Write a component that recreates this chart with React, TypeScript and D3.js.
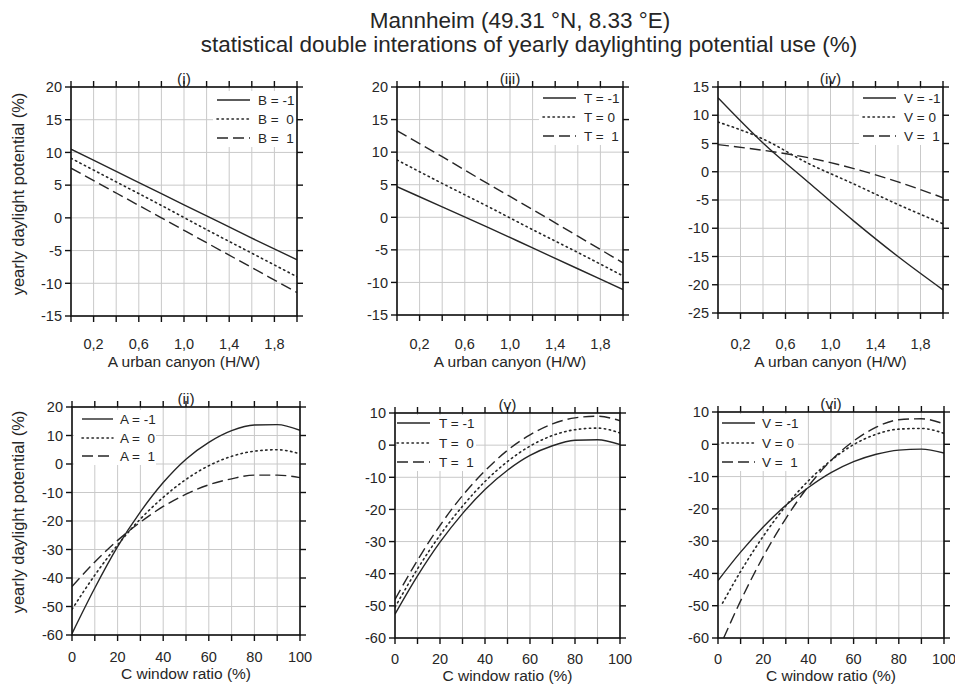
import React from 'react';
import * as d3 from 'd3';

// ---------- DATA ----------
const X_CANYON = [0, 0.4, 0.8, 1.2, 1.6, 2.0];
const X_CANYON_GRID = [0, 0.2, 0.4, 0.6, 0.8, 1.0, 1.2, 1.4, 1.6, 1.8, 2.0];
const X_CANYON_LABELS = [0.2, 0.6, 1.0, 1.4, 1.8];

const X_WINDOW = [0, 10, 20, 30, 40, 50, 60, 70, 80, 90, 100];
const X_WINDOW_LABELS = [0, 20, 40, 60, 80, 100];

// (i) A x B
const B_M1 = [10.5, 7.1, 3.7, 0.3, -3.1, -6.4];
const B_0 = [9.1, 5.5, 1.9, -1.8, -5.4, -9.0];
const B_P1 = [7.6, 3.8, 0.0, -3.8, -7.6, -11.4];

// (iii) A x T
const T_M1_A = [4.7, 1.6, -1.5, -4.7, -7.9, -11.1];
const T_0_A = [8.8, 5.2, 1.7, -1.9, -5.4, -9.0];
const T_P1_A = [13.3, 9.3, 5.2, 1.2, -2.9, -7.0];

// (iv) A x V
const V_M1_A = [13.1, 5.1, -1.8, -8.6, -15.0, -20.9];
const V_0_A = [8.8, 5.8, 1.5, -2.1, -5.8, -9.2];
const V_P1_A = [4.8, 3.8, 2.5, 0.6, -1.8, -4.6];

// (ii) C x A
const A_M1_C = [-59.5, -43.5, -29, -16.8, -6.5, 1.7, 7.6, 11.7, 13.7, 13.8, 11.8];
const A_0_C = [-51, -39, -28.4, -19.3, -11.7, -5.4, -0.6, 2.7, 4.5, 5, 3.6];
const A_P1_C = [-43, -34.4, -26.8, -20.4, -14.9, -10.6, -7.3, -5.2, -3.9, -3.9, -4.8];

// (v) C x T
const T_M1_C = [-52.6, -40.7, -30.2, -21.3, -13.8, -7.8, -3.2, -0.2, 1.5, 1.7, 0.2];
const T_0_C = [-50.4, -38.5, -28, -19, -11.3, -5.1, -0.3, 3, 4.8, 5.3, 3.8];
const T_P1_C = [-48, -35.8, -25, -15.7, -8, -1.6, 3.2, 6.6, 8.5, 9, 7.6];

// (vi) C x V
const X_WINDOW_V0 = [2, 10, 20, 30, 40, 50, 60, 70, 80, 90, 100];
const X_WINDOW_V1 = [2.5, 10, 20, 30, 40, 50, 60, 70, 80, 90, 100];
const V_M1_C = [-42.2, -33.4, -25.6, -18.9, -13.4, -8.8, -5.4, -3.1, -1.8, -1.5, -2.7];
const V_0_C = [-49.2, -39.4, -28.5, -19.1, -11.3, -5, -0.1, 3.1, 4.7, 4.9, 3.4];
const V_P1_C = [-60, -48.5, -34.8, -23, -13, -5, 1, 5.3, 7.6, 7.9, 6.3];

const TITLE_1 = 'Mannheim (49.31 °N, 8.33 °E)';
const TITLE_2 = 'statistical double interations of yearly daylighting potential use (%)';
const Y_TITLE = 'yearly daylight potential (%)';
const X_TITLE_TOP = 'A urban canyon (H/W)';
const X_TITLE_BOTTOM = 'C window ratio (%)';

// ---------- STYLE ----------
const FONT = '"Liberation Sans", Arial, Helvetica, sans-serif';
const INK = '#262626';
const GRID = '#c9c9c9';
const STYLES: Record<string, string | undefined> = {
  solid: undefined,
  dotted: '1.4,3.6',
  dashed: '11,5',
};

type Series = { name: string; xs: number[]; ys: number[]; style: string };
type Panel = {
  id: string;
  label: string;
  box: [number, number, number, number]; // left, top, right, bottom
  xDomain: [number, number];
  yDomain: [number, number];
  xGrid: number[];
  xLabels: number[];
  xFmt: (v: number) => string;
  yTicks: number[];
  xTitle: string;
  xLabelOffset: number;
  xTitleOffset: number;
  yTitle?: { x: number; y: number };
  legend: { lx0: number; lx1: number; tx: number; rows: number[]; rect: [number, number, number, number] };
  series: Series[];
};

const canyonFmt = (v: number) => v.toFixed(1).replace('.', ',');
const windowFmt = (v: number) => String(v);

const topLegend = (right: number, top: number) => ({
  lx0: right - 80,
  lx1: right - 47,
  tx: right - 39,
  rows: [top + 12, top + 31, top + 50],
  rect: [right - 84, top + 3, right - 1, top + 59] as [number, number, number, number],
});

const PANELS: Panel[] = [
  {
    id: 'i', label: '(i)', box: [71, 87, 297, 316],
    xDomain: [0, 2], yDomain: [-15, 20],
    xGrid: X_CANYON_GRID, xLabels: X_CANYON_LABELS, xFmt: canyonFmt,
    yTicks: d3.range(-15, 21, 5), xTitle: X_TITLE_TOP, xLabelOffset: 33, xTitleOffset: 51,
    yTitle: { x: 24, y: 194 },
    legend: topLegend(297, 88),
    series: [
      { name: 'B = -1', xs: X_CANYON, ys: B_M1, style: 'solid' },
      { name: 'B =  0', xs: X_CANYON, ys: B_0, style: 'dotted' },
      { name: 'B =  1', xs: X_CANYON, ys: B_P1, style: 'dashed' },
    ],
  },
  {
    id: 'iii', label: '(iii)', box: [397, 87, 623, 315],
    xDomain: [0, 2], yDomain: [-15, 20],
    xGrid: X_CANYON_GRID, xLabels: X_CANYON_LABELS, xFmt: canyonFmt,
    yTicks: d3.range(-15, 21, 5), xTitle: X_TITLE_TOP, xLabelOffset: 34, xTitleOffset: 52,
    legend: topLegend(623, 86),
    series: [
      { name: 'T = -1', xs: X_CANYON, ys: T_M1_A, style: 'solid' },
      { name: 'T = 0', xs: X_CANYON, ys: T_0_A, style: 'dotted' },
      { name: 'T =  1', xs: X_CANYON, ys: T_P1_A, style: 'dashed' },
    ],
  },
  {
    id: 'iv', label: '(iv)', box: [718, 87, 943, 313],
    xDomain: [0, 2], yDomain: [-25, 15],
    xGrid: X_CANYON_GRID, xLabels: X_CANYON_LABELS, xFmt: canyonFmt,
    yTicks: d3.range(-25, 16, 5), xTitle: X_TITLE_TOP, xLabelOffset: 36, xTitleOffset: 54,
    legend: topLegend(943, 86),
    series: [
      { name: 'V = -1', xs: X_CANYON, ys: V_M1_A, style: 'solid' },
      { name: 'V = 0', xs: X_CANYON, ys: V_0_A, style: 'dotted' },
      { name: 'V =  1', xs: X_CANYON, ys: V_P1_A, style: 'dashed' },
    ],
  },
  {
    id: 'ii', label: '(ii)', box: [72, 407, 300, 635],
    xDomain: [0, 100], yDomain: [-60, 20],
    xGrid: X_WINDOW, xLabels: X_WINDOW_LABELS, xFmt: windowFmt,
    yTicks: d3.range(-60, 21, 10), xTitle: X_TITLE_BOTTOM, xLabelOffset: 27, xTitleOffset: 44,
    yTitle: { x: 24, y: 512 },
    legend: { lx0: 82, lx1: 113, tx: 120, rows: [419, 438, 456], rect: [74, 410, 156, 465] },
    series: [
      { name: 'A = -1', xs: X_WINDOW, ys: A_M1_C, style: 'solid' },
      { name: 'A =  0', xs: X_WINDOW, ys: A_0_C, style: 'dotted' },
      { name: 'A =  1', xs: X_WINDOW, ys: A_P1_C, style: 'dashed' },
    ],
  },
  {
    id: 'v', label: '(v)', box: [395, 413, 620, 638],
    xDomain: [0, 100], yDomain: [-60, 10],
    xGrid: X_WINDOW, xLabels: X_WINDOW_LABELS, xFmt: windowFmt,
    yTicks: d3.range(-60, 11, 10), xTitle: X_TITLE_BOTTOM, xLabelOffset: 26, xTitleOffset: 43,
    legend: { lx0: 397, lx1: 430, tx: 439, rows: [423, 443, 462], rect: [397, 415, 476, 471] },
    series: [
      { name: 'T = -1', xs: X_WINDOW, ys: T_M1_C, style: 'solid' },
      { name: 'T =  0', xs: X_WINDOW, ys: T_0_C, style: 'dotted' },
      { name: 'T =  1', xs: X_WINDOW, ys: T_P1_C, style: 'dashed' },
    ],
  },
  {
    id: 'vi', label: '(vi)', box: [718, 412, 944, 638],
    xDomain: [0, 100], yDomain: [-60, 10],
    xGrid: X_WINDOW, xLabels: X_WINDOW_LABELS, xFmt: windowFmt,
    yTicks: d3.range(-60, 11, 10), xTitle: X_TITLE_BOTTOM, xLabelOffset: 26, xTitleOffset: 43,
    legend: { lx0: 722, lx1: 755, tx: 762, rows: [423, 443, 462], rect: [720, 414, 798, 471] },
    series: [
      { name: 'V = -1', xs: X_WINDOW, ys: V_M1_C, style: 'solid' },
      { name: 'V = 0', xs: X_WINDOW_V0, ys: V_0_C, style: 'dotted' },
      { name: 'V =  1', xs: X_WINDOW_V1, ys: V_P1_C, style: 'dashed' },
    ],
  },
];

const TICK = 6;

function PanelView({ p }: { p: Panel }) {
  const [l, t, r, b] = p.box;
  const x = d3.scaleLinear().domain(p.xDomain).range([l, r]);
  const y = d3.scaleLinear().domain(p.yDomain).range([b, t]);
  const line = d3
    .line<[number, number]>()
    .x((d) => x(d[0]))
    .y((d) => y(d[1]))
    .curve(d3.curveMonotoneX);
  const clipId = `clip-${p.id}`;
  return (
    <g>
      <defs>
        <clipPath id={clipId}>
          <rect x={l} y={t} width={r - l} height={b - t} />
        </clipPath>
      </defs>
      {/* grid */}
      {p.xGrid.map((v) => (
        <line key={'gx' + v} x1={x(v)} x2={x(v)} y1={t} y2={b} stroke={GRID} strokeWidth={1} />
      ))}
      {p.yTicks.map((v) => (
        <line key={'gy' + v} x1={l} x2={r} y1={y(v)} y2={y(v)} stroke={GRID} strokeWidth={1} />
      ))}
      {/* series */}
      <g clipPath={`url(#${clipId})`}>
        {p.series.map((s) => (
          <path
            key={s.name}
            d={line(s.xs.map((xv, i) => [xv, s.ys[i]] as [number, number])) || ''}
            fill="none"
            stroke={INK}
            strokeWidth={s.style === 'dotted' ? 1.6 : 1.4}
            strokeDasharray={STYLES[s.style]}
            strokeLinecap={s.style === 'dotted' ? 'round' : 'butt'}
          />
        ))}
      </g>
      {/* legend */}
      <rect
        x={p.legend.rect[0]}
        y={p.legend.rect[1]}
        width={p.legend.rect[2] - p.legend.rect[0]}
        height={p.legend.rect[3] - p.legend.rect[1]}
        fill="#fff"
      />
      {p.series.map((s, i) => (
        <g key={'lg' + s.name}>
          <line
            x1={p.legend.lx0}
            x2={p.legend.lx1}
            y1={p.legend.rows[i]}
            y2={p.legend.rows[i]}
            stroke={INK}
            strokeWidth={s.style === 'dotted' ? 1.6 : 1.4}
            strokeDasharray={STYLES[s.style]}
            strokeLinecap={s.style === 'dotted' ? 'round' : 'butt'}
          />
          <text
            x={p.legend.tx}
            y={p.legend.rows[i] + 5}
            fontSize={13.5}
            fill={INK}
            xmlSpace="preserve"
            style={{ whiteSpace: 'pre' }}
          >
            {s.name}
          </text>
        </g>
      ))}
      {/* frame */}
      <rect x={l} y={t} width={r - l} height={b - t} fill="none" stroke="#111" strokeWidth={1.6} />
      {/* ticks */}
      {p.xGrid.map((v) => (
        <g key={'tx' + v}>
          <line x1={x(v)} x2={x(v)} y1={b} y2={b + TICK} stroke="#111" strokeWidth={1.4} />
          <line x1={x(v)} x2={x(v)} y1={t} y2={t - TICK} stroke="#111" strokeWidth={1.4} />
        </g>
      ))}
      {p.yTicks.map((v) => (
        <g key={'ty' + v}>
          <line x1={l} x2={l - TICK} y1={y(v)} y2={y(v)} stroke="#111" strokeWidth={1.4} />
          <line x1={r} x2={r + TICK} y1={y(v)} y2={y(v)} stroke="#111" strokeWidth={1.4} />
          <text x={l - 9} y={y(v)} dy="0.36em" textAnchor="end" fontSize={14.5} fill={INK}>
            {v}
          </text>
        </g>
      ))}
      {p.xLabels.map((v) => (
        <text key={'xl' + v} x={x(v)} y={b + p.xLabelOffset} textAnchor="middle" fontSize={14.5} fill={INK}>
          {p.xFmt(v)}
        </text>
      ))}
      {/* panel label */}
      <text x={(l + r) / 2} y={t - 3} textAnchor="middle" fontSize={15.5} fill={INK}>
        {p.label}
      </text>
      {/* axis titles */}
      <text x={(l + r) / 2} y={b + p.xTitleOffset} textAnchor="middle" fontSize={15.5} fill={INK}>
        {p.xTitle}
      </text>
      {p.yTitle && (
        <text
          transform={`translate(${p.yTitle.x},${p.yTitle.y}) rotate(-90)`}
          textAnchor="middle"
          fontSize={16.5}
          fill={INK}
        >
          {Y_TITLE}
        </text>
      )}
    </g>
  );
}

export default function App() {
  return (
    <svg
      width={955}
      height={691}
      viewBox="0 0 955 691"
      style={{ position: 'absolute', left: 0, top: 0, background: '#fff', fontFamily: FONT }}
    >
      <rect x={0} y={0} width={955} height={691} fill="#fff" />
      <text x={520} y={28} textAnchor="middle" fontSize={22.5} fill={INK}>
        {TITLE_1}
      </text>
      <text x={529} y={52} textAnchor="middle" fontSize={22.5} fill={INK}>
        {TITLE_2}
      </text>
      {PANELS.map((p) => (
        <PanelView key={p.id} p={p} />
      ))}
    </svg>
  );
}
